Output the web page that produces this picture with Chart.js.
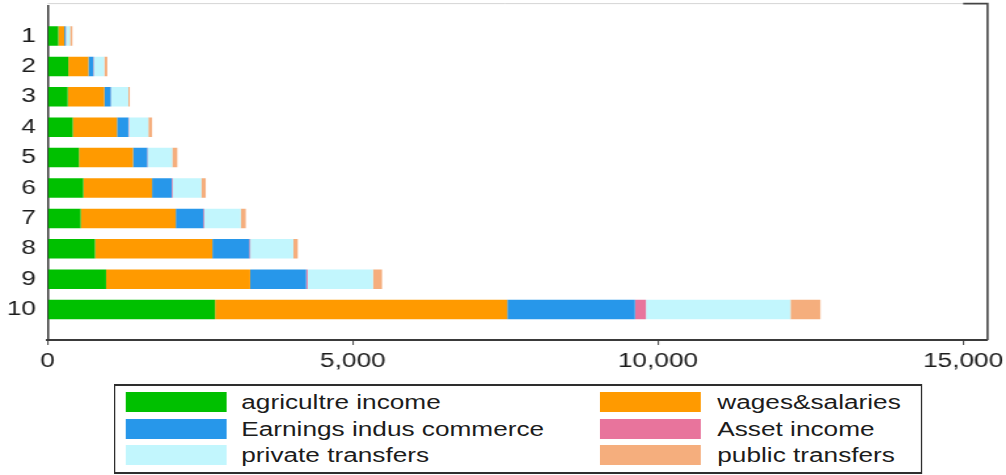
<!DOCTYPE html>
<html>
<head>
<meta charset="utf-8">
<script src="https://cdn.jsdelivr.net/npm/chart.js@4"></script>
<style>
  html, body { margin: 0; padding: 0; background: #ffffff; overflow: hidden; }
  #wrap { position: absolute; left: 0; top: 0; width: 768px; height: 475px;
          transform: scaleX(1.30990); transform-origin: 0 0; }
  #c { position: absolute; left: 0; top: 0; width: 768px; height: 475px; }
  #legend { position: absolute; left: 87px; top: 384px; width: 617px; height: 89.5px;
            box-sizing: border-box; border-style: solid; border-color: #2e2e2e;
            border-width: 2px 1.5px; background: #fff; }
  .sw { position: absolute; width: 76.8px; height: 20px; }
  .lt { position: absolute; font-family: "Liberation Sans", Arial, sans-serif; font-size: 20px;
        line-height: 20px; color: #1c1c1c; white-space: nowrap; }
</style>
</head>
<body>
<div id="wrap">
  <canvas id="c" width="768" height="475"></canvas>
  <div id="legend"></div>
</div>
<script>
// ---- data ----
const categories = [1, 2, 3, 4, 5, 6, 7, 8, 9, 10];
const categoryLabels = ['1', '2', '3', '4', '5', '6', '7', '8', '9', '10'];
const agricultureIncome = [174, 338, 328, 410, 513, 584, 541, 775, 956, 2743];
const wagesSalaries     = [98, 328, 600, 726, 885, 1126, 1557, 1923, 2361, 4787];
const earningsIndus     = [23, 82, 105, 185, 234, 323, 452, 606, 918, 2093];
const assetIncome       = [5, 8, 5, 8, 8, 16, 16, 16, 25, 180];
const privateTransfers  = [66, 172, 284, 320, 402, 469, 597, 705, 1070, 2366];
const publicTransfers   = [38, 49, 23, 61, 82, 72, 82, 72, 148, 492];
const xTicks = [0, 5000, 10000, 15000];
const seriesNames = ['agricultre income', 'wages&salaries', 'Earnings indus commerce',
                     'Asset income', 'private transfers', 'public transfers'];
const seriesColors = ['#00c000', '#ff9a00', '#2797ea', '#e8749c', '#c2f6fd', '#f5ae7d'];
const seriesValues = [agricultureIncome, wagesSalaries, earningsIndus, assetIncome,
                      privateTransfers, publicTransfers];

const datasets = seriesValues.map((vals, s) => ({
  label: seriesNames[s],
  data: categories.map((c, i) => ({ x: vals[i], y: c })),
  backgroundColor: seriesColors[s],
  borderWidth: 0,
  barPercentage: 0.64,
  categoryPercentage: 1.0
}));

const framePlugin = {
  id: 'frame',
  afterDraw(chart) {
    const { ctx, chartArea: a } = chart;
    const xs = chart.scales.x;
    const xt = xs.getPixelForValue(xTicks[xTicks.length - 1]);
    const yTop = a.top - 2;
    ctx.save();
    ctx.lineWidth = 1;
    ctx.strokeStyle = '#d6d6d6';
    ctx.beginPath(); ctx.moveTo(a.left, yTop); ctx.lineTo(xt, yTop); ctx.stroke();
    ctx.lineWidth = 1.6;
    ctx.strokeStyle = '#444444';
    ctx.beginPath(); ctx.moveTo(xt, yTop); ctx.lineTo(a.right, yTop); ctx.lineTo(a.right, a.bottom); ctx.stroke();
    ctx.restore();
  }
};

const tickFont = { family: '"Liberation Sans", Arial, sans-serif', size: 20 };

new Chart(document.getElementById('c'), {
  type: 'bar',
  data: { datasets },
  options: {
    indexAxis: 'y',
    responsive: false,
    animation: false,
    layout: { padding: { top: 5.6, right: 14.1, left: 0, bottom: 0 } },
    plugins: { legend: { display: false }, tooltip: { enabled: false } },
    scales: {
      x: {
        type: 'linear',
        stacked: true,
        min: 0,
        max: 15400,
        afterBuildTicks: (s) => { s.ticks = xTicks.map(v => ({ value: v })); },
        afterFit: (s) => { s.height = 135; s.paddingLeft = 0; s.paddingRight = 0; },
        ticks: {
          font: tickFont,
          color: '#1c1c1c',
          padding: 4,
          maxRotation: 0,
          callback: (v) => Number(v).toLocaleString('en-US')
        },
        grid: { display: true, drawOnChartArea: false, drawTicks: true, tickLength: 5,
                color: '#555555', lineWidth: 1.1 },
        border: { display: true, color: '#3a3a3a', width: 2 }
      },
      y: {
        type: 'linear',
        stacked: true,
        reverse: true,
        offset: false,
        min: 0,
        max: 11,
        afterBuildTicks: (s) => { s.ticks = categories.map(v => ({ value: v })); },
        afterFit: (s) => { s.width = 36.4; s.paddingTop = 0; s.paddingBottom = 0; },
        ticks: {
          font: tickFont,
          color: '#1c1c1c',
          padding: 9,
          callback: (v) => categoryLabels[categories.indexOf(v)]
        },
        grid: { display: false, drawTicks: false, offset: false },
        border: { display: true, color: '#3a3a3a', width: 1.5 }
      }
    }
  },
  plugins: [framePlugin]
});

// ---- legend (HTML, built from the datasets) ----
const legend = document.getElementById('legend');
seriesNames.forEach((name, i) => {
  const col = i % 2, row = Math.floor(i / 2);
  const top = 6.3 + row * 26.35;
  const sw = document.createElement('div');
  sw.className = 'sw';
  sw.style.left = (col === 0 ? 8 : 370.3) + 'px';
  sw.style.top = top + 'px';
  sw.style.background = seriesColors[i];
  legend.appendChild(sw);
  const t = document.createElement('div');
  t.className = 'lt';
  t.style.left = (col === 0 ? 96.2 : 459.6) + 'px';
  t.style.top = top + 'px';
  t.textContent = name;
  legend.appendChild(t);
});
</script>
</body>
</html>
